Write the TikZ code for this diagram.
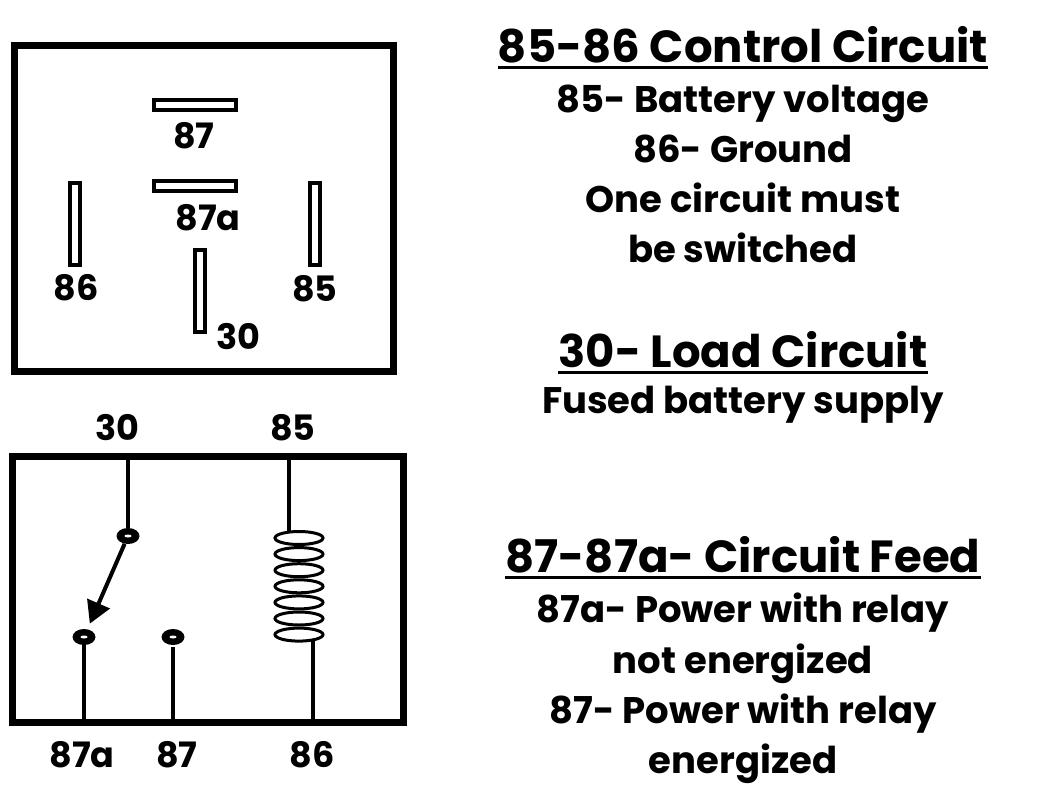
\documentclass[tikz,border=0pt]{standalone}
\usepackage{fontspec}
\setmainfont{Poppins}
\usetikzlibrary{arrows.meta}
\usetikzlibrary{shapes.geometric}

\tikzset{
  pinh/.style={draw, line width=4pt, minimum width=82pt, minimum height=10pt, inner sep=0pt},
  pinv/.style={draw, line width=4pt, minimum width=10pt, minimum height=82pt, inner sep=0pt},
  pinlabel/.style={font=\fontsize{35}{35}\selectfont\bfseries, inner sep=0pt},
  contact/.style={ellipse, fill=black, minimum width=23pt, minimum height=16pt, inner sep=0pt},
  wire/.style={line width=4pt},
  casing/.style={line width=7pt},
  heading/.style={font=\fontsize{45}{45}\selectfont\bfseries, inner sep=0pt, anchor=base},
  body/.style={font=\fontsize{37}{37}\selectfont\bfseries, inner sep=0pt, anchor=base},
}

\begin{document}
\begin{tikzpicture}[x=1pt, y=-1pt]
        \useasboundingbox (0,0) rectangle (1060,803);

        % socket view
        \draw[casing] (14.5,45) rectangle (393.5,371);
        \node[pinh] (p87) at (195,104.7) {};
        \node[pinh] (p87a) at (195,185.7) {};
        \node[pinv] (p86) at (74.7,223.7) {};
        \node[pinv] (p85) at (314.5,223.7) {};
        \node[pinv] (p30) at (200,291) {};
        \node[pinlabel] (n87) at (194,136) {87};
        \node[pinlabel] (n87a) at (208,218) {87a};
        \node[pinlabel] (n86) at (76,288) {86};
        \node[pinlabel] (n85) at (315,289) {85};
        \node[pinlabel] (n30) at (238,337) {30};

        % schematic
        \draw[casing] (12,456) rectangle (403,722);
        \node[pinlabel] (s30) at (117,428) {30};
        \node[pinlabel] (s85) at (293,428) {85};
        \node[pinlabel] (s87a) at (82,755) {87a};
        \node[pinlabel] (s87) at (177,755) {87};
        \node[pinlabel] (s86) at (312,755) {86};

        \node[contact] (c30) at (128,536) {};
        \node[contact] (c87a) at (84,637) {};
        \node[contact] (c87) at (173,637) {};
        \foreach \c in {c30,c87a,c87}
            \fill[white] (\c.center) ellipse (3.5pt and 1.5pt);

        \coordinate (t30) at (128,456);
        \coordinate (b87a) at (84,722);
        \coordinate (b87) at (173,722);
        \coordinate (t85) at (289,456);
        \coordinate (k85) at (289,532);
        \coordinate (k86) at (313,641);
        \coordinate (b86) at (313,722);

        \draw[wire] (t30) -- (c30);
        \draw[wire] (c87a) -- (b87a);
        \draw[wire] ([yshift=-2pt]c87.south) -- (b87);
        \draw[wire, -{Triangle[length=22pt,width=24pt]}, shorten >=6pt] (c30) -- (c87a);

        \draw[wire] (t85) -- (k85);
        \draw[wire] (k86) -- (b86);
        \foreach \k in {0,...,6}
            \draw[line width=3pt] (299,{538+16.1*\k}) ellipse (24pt and 6.5pt);

        % pin functions
        \node[heading] (h1) at (743,62) {85-86 Control Circuit};
        \node[body] (l1) at (743,112) {85- Battery voltage};
        \node[body] (l2) at (743,162) {86- Ground};
        \node[body] (l3) at (743,212) {One circuit must};
        \node[body] (l4) at (743,262) {be switched};

        \node[heading] (h2) at (743,367) {30- Load Circuit};
        \node[body] (l5) at (743,413) {Fused battery supply};

        \node[heading] (h3) at (743,572) {87-87a- Circuit Feed};
        \node[body] (l6) at (743,622) {87a- Power with relay};
        \node[body] (l7) at (743,673) {not energized};
        \node[body] (l8) at (743,723) {87- Power with relay};
        \node[body] (l9) at (743,773) {energized};

        \foreach \h in {h1,h2,h3}
            \draw[line width=2.5pt] ([yshift=-5.5pt]\h.base west) -- ([yshift=-5.5pt]\h.base east);

\end{tikzpicture}
\end{document}
